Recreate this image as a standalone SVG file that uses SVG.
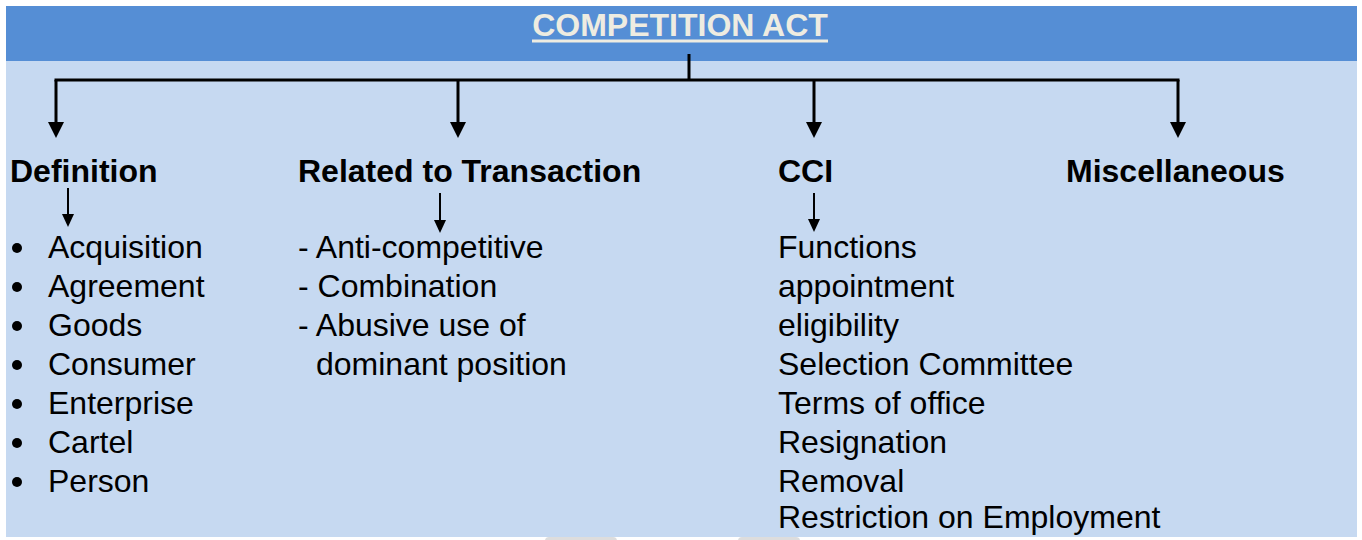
<svg xmlns="http://www.w3.org/2000/svg" xmlns:xlink="http://www.w3.org/1999/xlink" width="1362" height="540" viewBox="0 0 1362 540">
  <style>
    .title { font-family: "Liberation Sans", Arial, sans-serif; font-size: 32px; font-weight: bold; fill: #EEECE1; }
    .head { font-family: "Liberation Sans", Arial, sans-serif; font-size: 32px; font-weight: bold; fill: #000; }
    .item { font-family: "Liberation Sans", Arial, sans-serif; font-size: 32px; fill: #000; }
    .main { stroke: #000; stroke-width: 3; fill: none; }
    .sub { stroke: #000; stroke-width: 2; fill: none; }
  </style>
  <defs>
    <!-- arrow tips, drawn with the point at the origin -->
    <path id="bigTip" d="M-8,-16 L8,-16 L0,0 Z" fill="#000"/>
    <path id="smallTip" d="M-6,-13 L6,-13 L0,0 Z" fill="#000"/>
  </defs>

  <!-- page background -->
  <rect x="0" y="0" width="1362" height="540" fill="#FFFFFF"/>
  <!-- body panel -->
  <rect x="6" y="61" width="1351" height="476" fill="#C6D9F1"/>
  <!-- light gray marks along the lower edge -->
  <rect x="545" y="537" width="72" height="8" rx="4" fill="#DDDDDD"/>
  <rect x="738" y="537" width="62" height="8" rx="4" fill="#DDDDDD"/>

  <!-- title band -->
  <g id="title">
    <rect x="6" y="6" width="1351" height="55" fill="#558ED5"/>
    <text class="title" x="680" y="36" text-anchor="middle">COMPETITION ACT</text>
    <rect x="532" y="39.5" width="296" height="3" fill="#EEECE1"/>
  </g>

  <!-- connectors -->
  <g id="connectors">
    <line class="main" x1="689" y1="54" x2="689" y2="80"/>
    <line class="main" x1="54.5" y1="80" x2="1179.5" y2="80"/>
    <line class="main" x1="56" y1="80" x2="56" y2="124"/>
    <line class="main" x1="458" y1="80" x2="458" y2="124"/>
    <line class="main" x1="814" y1="80" x2="814" y2="124"/>
    <line class="main" x1="1178" y1="80" x2="1178" y2="124"/>
    <use xlink:href="#bigTip" href="#bigTip" x="56" y="138"/>
    <use xlink:href="#bigTip" href="#bigTip" x="458" y="138"/>
    <use xlink:href="#bigTip" href="#bigTip" x="814" y="138"/>
    <use xlink:href="#bigTip" href="#bigTip" x="1178" y="138"/>
    <line class="sub" x1="68" y1="188" x2="68" y2="216"/>
    <line class="sub" x1="440" y1="193" x2="440" y2="222"/>
    <line class="sub" x1="814" y1="193" x2="814" y2="221"/>
    <use xlink:href="#smallTip" href="#smallTip" x="68" y="227"/>
    <use xlink:href="#smallTip" href="#smallTip" x="440" y="233"/>
    <use xlink:href="#smallTip" href="#smallTip" x="814" y="232"/>
  </g>

  <!-- Definition -->
  <g id="definition">
    <text class="head" x="10" y="182">Definition</text>
    <g fill="#000">
      <circle cx="17" cy="248" r="5"/>
      <circle cx="17" cy="287" r="5"/>
      <circle cx="17" cy="326" r="5"/>
      <circle cx="17" cy="365" r="5"/>
      <circle cx="17" cy="404" r="5"/>
      <circle cx="17" cy="443" r="5"/>
      <circle cx="17" cy="482" r="5"/>
    </g>
    <text class="item" x="48" y="258">Acquisition</text>
    <text class="item" x="48" y="297">Agreement</text>
    <text class="item" x="48" y="336">Goods</text>
    <text class="item" x="48" y="375">Consumer</text>
    <text class="item" x="48" y="414">Enterprise</text>
    <text class="item" x="48" y="453">Cartel</text>
    <text class="item" x="48" y="492">Person</text>
  </g>

  <!-- Related to Transaction -->
  <g id="transaction">
    <text class="head" x="298" y="182">Related to Transaction</text>
    <text class="item" x="298" y="258">- Anti-competitive</text>
    <text class="item" x="298" y="297">- Combination</text>
    <text class="item" x="298" y="336">- Abusive use of</text>
    <text class="item" x="316" y="375">dominant position</text>
  </g>

  <!-- CCI -->
  <g id="cci">
    <text class="head" x="778" y="182">CCI</text>
    <text class="item" x="778" y="258">Functions</text>
    <text class="item" x="778" y="297">appointment</text>
    <text class="item" x="778" y="336">eligibility</text>
    <text class="item" x="778" y="375">Selection Committee</text>
    <text class="item" x="778" y="414">Terms of office</text>
    <text class="item" x="778" y="453">Resignation</text>
    <text class="item" x="778" y="492">Removal</text>
    <text class="item" x="778" y="528">Restriction on Employment</text>
  </g>

  <!-- Miscellaneous -->
  <g id="misc">
    <text class="head" x="1066" y="182">Miscellaneous</text>
  </g>
</svg>
